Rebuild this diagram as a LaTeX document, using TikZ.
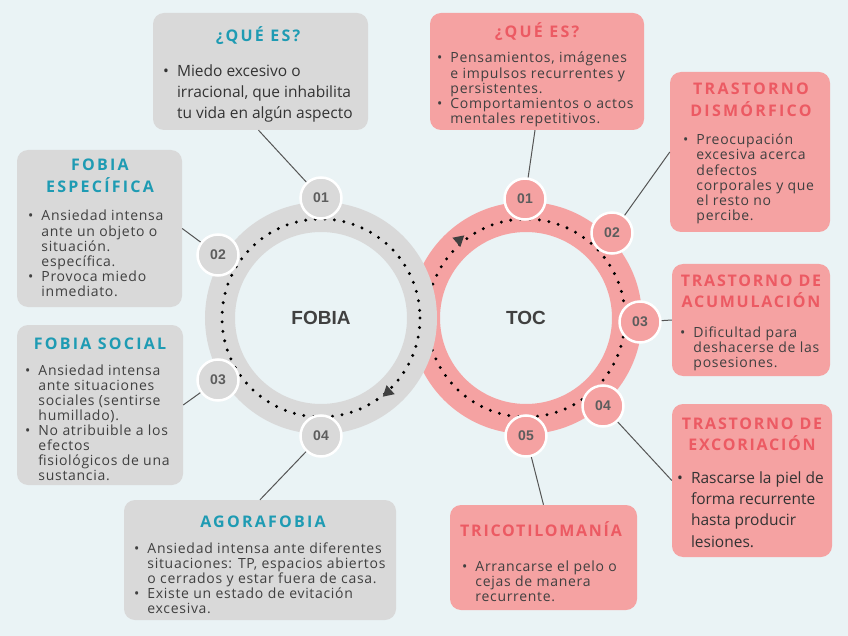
\documentclass[tikz,border=0pt]{standalone}
\usepackage{fontspec}
\setmainfont{Open Sans}
\newfontfamily\bodyfont[LetterSpace=5]{Open Sans}
\newfontfamily\titlefont[LetterSpace=14]{Open Sans}
\newfontfamily\tighttitlefont[LetterSpace=11]{Open Sans}
\newfontfamily\hubfont{Liberation Sans}
\usepackage{xcolor}
\definecolor{bgcol}{HTML}{EAF3F5}
\definecolor{fobgray}{HTML}{D9D9D9}
\definecolor{tocpink}{HTML}{F5A2A2}
\definecolor{titleteal}{HTML}{1E9BB3}
\definecolor{titlered}{HTML}{EC5A63}
\definecolor{txtdark}{HTML}{404040}
\definecolor{linkgray}{HTML}{555555}
\usetikzlibrary{arrows.meta, positioning, shapes.geometric, calc}

% bullet list as a top-aligned table
\newcommand{\blist}[1]{%
  \begin{tabular}[t]{@{}l@{\hspace{8pt}}l@{}}#1\end{tabular}}
\newcommand{\tlines}[1]{%
  \begin{tabular}[t]{@{}c@{}}#1\end{tabular}}

\begin{document}
\begin{tikzpicture}[
  x=1pt, y=-1pt,
  card/.style={rounded corners=11pt, inner sep=0pt},
  graycard/.style={card, fill=fobgray},
  pinkcard/.style={card, fill=tocpink},
  cardtitle/.style={anchor=base, inner sep=0pt, font=\titlefont\fontsize{16}{22}\selectfont\bfseries},
  tighttitle/.style={cardtitle, font=\tighttitlefont\fontsize{16}{21}\selectfont\bfseries},
  cardbody/.style={anchor=base west, inner sep=0pt, text=txtdark,
                   font=\bodyfont\fontsize{14}{15}\selectfont},
  widebody/.style={anchor=base west, inner sep=0pt, text=txtdark!80!black,
                   font=\fontsize{15.5}{21.2}\selectfont},
  hub/.style={circle, minimum size=202pt, line width=30pt, fill=bgcol,
              font=\hubfont\fontsize{19}{19}\selectfont\bfseries, text=txtdark},
  ringdots/.style={line width=3.3pt, line cap=round, dash pattern=on 0pt off 9.6pt},
  badge/.style={circle, minimum size=41pt, inner sep=0pt, draw=white, line width=2.5pt,
                font=\hubfont\fontsize{14}{14}\selectfont\bfseries, text=txtdark!85},
  flowtip/.style={regular polygon, regular polygon sides=3, minimum size=14pt,
                  inner sep=0pt, fill=txtdark},
  link/.style={linkgray, line width=1pt}
]
\useasboundingbox (0,0) rectangle (848,636);
\fill[bgcol] (0,0) rectangle (848,636);

% the two rings (pink one underneath)
\node[hub, draw=tocpink] (toc) at (526,318) {TOC};
\draw[ringdots] (toc.center) circle[radius=99];
\node[hub, draw=fobgray] (fobia) at (321,318) {FOBIA};
\draw[ringdots] (fobia.center) circle[radius=99];

\node[flowtip, shape border rotate=132] (ftip) at (388,392) {};
\node[flowtip, shape border rotate=-49] (ttip) at (459,240) {};

% cards, FOBIA side
\node[graycard, minimum width=215pt, minimum height=117pt] (qfob) at (260.5,71.5) {};
\node[graycard, minimum width=165pt, minimum height=157pt] (espec) at (99.5,228.5) {};
\node[graycard, minimum width=166pt, minimum height=160pt] (social) at (100,405) {};
\node[graycard, minimum width=272pt, minimum height=120pt] (agora) at (260,560) {};

% cards, TOC side
\node[pinkcard, minimum width=214pt, minimum height=117pt] (qtoc) at (537,71.5) {};
\node[pinkcard, minimum width=160pt, minimum height=160pt] (dism) at (750,152) {};
\node[pinkcard, minimum width=158pt, minimum height=112pt] (acum) at (751,320) {};
\node[pinkcard, minimum width=160pt, minimum height=153pt] (excor) at (752,480.5) {};
\node[pinkcard, minimum width=187pt, minimum height=105pt] (trico) at (543.5,557.5) {};

% numbered badges
\node[badge, fill=fobgray] (f1) at (321,198) {01};
\node[badge, fill=fobgray] (f2) at (218,255) {02};
\node[badge, fill=fobgray] (f3) at (218,380) {03};
\node[badge, fill=fobgray] (f4) at (321,436) {04};
\node[badge, fill=tocpink] (t1) at (525,199) {01};
\node[badge, fill=tocpink] (t2) at (612,233) {02};
\node[badge, fill=tocpink] (t3) at (640,322) {03};
\node[badge, fill=tocpink] (t4) at (603,406) {04};
\node[badge, fill=tocpink] (t5) at (526,436) {05};

% links card -> badge
\draw[link] ([xshift=-2pt]qfob.south) -- (f1);
\draw[link] (espec.east) -- (f2);
\draw[link] (social.east) -- (f3);
\draw[link] (agora.north) -- (f4);
\draw[link] ([xshift=-2pt]qtoc.south) -- (t1);
\draw[link] (dism.west) -- (t2);
\draw[link] (acum.west) -- (t3);
\draw[link] (excor.west) -- (t4);
\draw[link] (trico.north) -- (t5);

% titles
\node[cardtitle, text=titleteal] (qfobT) at (258,42) {¿QUÉ ES?};
\node[cardtitle, text=titleteal] (especT) at (100,171) {\tlines{FOBIA\\ESPECÍFICA}};
\node[cardtitle, text=titleteal] (socialT) at (100,349) {FOBIA SOCIAL};
\node[cardtitle, text=titleteal] (agoraT) at (263,527) {AGORAFOBIA};
\node[cardtitle, text=titlered] (qtocT) at (537,38) {¿QUÉ ES?};
\node[cardtitle, text=titlered] (dismT) at (751,95) {\tlines{TRASTORNO\\DISMÓRFICO}};
\node[tighttitle, text=titlered, font=\tighttitlefont\fontsize{16}{20}\selectfont\bfseries] (acumT) at (751,287) {\tlines{TRASTORNO DE\\ACUMULACIÓN}};
\node[tighttitle, text=titlered] (excorT) at (752,429) {\tlines{TRASTORNO DE\\EXCORIACIÓN}};
\node[tighttitle, text=titlered] (tricoT) at (541,536) {TRICOTILOMANÍA};

% bullet texts
\node[widebody] (qfobB) at (163,76.5) {\blist{%
  \textbullet & Miedo excesivo o\\
  & irracional, que inhabilita\\
  & tu vida en algún aspecto}};
\node[cardbody] (especB) at (28,221) {\blist{%
  \textbullet & Ansiedad intensa\\
  & ante un objeto o\\
  & situación.\\
  & específica.\\
  \textbullet & Provoca miedo\\
  & inmediato.}};
\node[cardbody] (socialB) at (25,375) {\blist{%
  \textbullet & Ansiedad intensa\\
  & ante situaciones\\
  & sociales (sentirse\\
  & humillado).\\
  \textbullet & No atribuible a los\\
  & efectos\\
  & fisiológicos de una\\
  & sustancia.}};
\node[cardbody] (agoraB) at (134,553) {\blist{%
  \textbullet & Ansiedad intensa ante diferentes\\
  & situaciones: TP, espacios abiertos\\
  & o cerrados y estar fuera de casa.\\
  \textbullet & Existe un estado de evitación\\
  & excesiva.}};
\node[cardbody] (qtocB) at (437,63) {\blist{%
  \textbullet & Pensamientos, imágenes\\
  & e impulsos recurrentes y\\
  & persistentes.\\
  \textbullet & Comportamientos o actos\\
  & mentales repetitivos.}};
\node[cardbody] (dismB) at (683,145) {\blist{%
  \textbullet & Preocupación\\
  & excesiva acerca\\
  & defectos\\
  & corporales y que\\
  & el resto no\\
  & percibe.}};
\node[cardbody] (acumB) at (680,337) {\blist{%
  \textbullet & Dificultad para\\
  & deshacerse de las\\
  & posesiones.}};
\node[widebody] (excorB) at (677,483.5) {\blist{%
  \textbullet & Rascarse la piel de\\
  & forma recurrente\\
  & hasta producir\\
  & lesiones.}};
\node[cardbody] (tricoB) at (462,571) {\blist{%
  \textbullet & Arrancarse el pelo o\\
  & cejas de manera\\
  & recurrente.}};

\end{tikzpicture}
\end{document}
